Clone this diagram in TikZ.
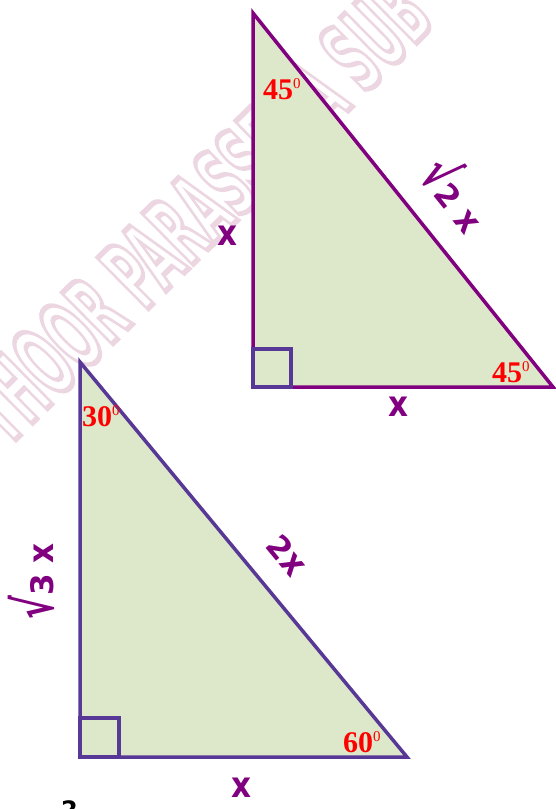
\documentclass[tikz,border=0pt]{standalone}
\usepackage{fontspec}
\usepackage{graphicx}
\setmainfont{Liberation Serif}
\newfontfamily\lblfont{DejaVu Sans}
\definecolor{tripurple}{RGB}{128,0,128}
\definecolor{triblue}{RGB}{88,56,150}
\definecolor{trifill}{RGB}{221,231,202}
\definecolor{angred}{RGB}{255,0,0}
\definecolor{wmpink}{RGB}{236,214,225}
\newcommand{\xglyph}{\scalebox{1}[1.15]{x}}
\newcommand{\rootglyph}{\scalebox{1.15}[1.75]{√}}
\newcommand{\angtxt}[1]{{\fontsize{30}{30}\selectfont\bfseries #1}\raisebox{10.2pt}{\fontsize{15}{15}\selectfont 0}}
\newcommand{\outlinetext}[1]{\special{pdf:literal direct 1 Tr 5.5 w}#1\special{pdf:literal direct 0 Tr}}
\begin{document}
\begin{tikzpicture}[x=1pt,y=-1pt,
  tri/.style={fill=trifill, line width=3.5pt, line join=miter},
  sq/.style={draw=triblue, line width=3.5pt},
  anglbl/.style={text=angred, inner sep=0pt, anchor=base west},
  sidelbl/.style={text=tripurple, inner sep=0pt, font=\lblfont\bfseries\fontsize{31}{31}\selectfont},
  wm/.style={text=wmpink, inner sep=0pt, font=\lblfont\bfseries\fontsize{98}{98}\selectfont}]
\useasboundingbox (0,0) rectangle (556,809);
\clip (0,0) rectangle (556,809);
% watermark
\node[wm, rotate=44.7, xscale=0.455] (wmark) at (197,210) {\outlinetext{THOOR PARASSERA SUB}};
% top triangle
\coordinate (T1) at (253,13);
\coordinate (R1) at (253,387);
\coordinate (E1) at (553,387);
\filldraw[tri, draw=tripurple] (T1) -- (R1) -- (E1) -- cycle;
\draw[sq] (R1) rectangle ++(38,-38);
% bottom triangle
\coordinate (T2) at (80,362);
\coordinate (R2) at (80,757);
\coordinate (E2) at (407,757);
\filldraw[tri, draw=triblue] (T2) -- (R2) -- (E2) -- cycle;
\draw[sq] (R2) rectangle ++(39,-39);
% angle labels
\node[anglbl] (a1) at (263,99) {\angtxt{45}};
\node[anglbl] (a2) at (492,382) {\angtxt{45}};
\node[anglbl] (a3) at (82,426) {\angtxt{30}};
\node[anglbl] (a4) at (343,752) {\angtxt{60}};
% side labels
\node[sidelbl] (s1) at (227,236) {\xglyph};
\node[sidelbl] (s2) at (398,407) {\xglyph};
\node[sidelbl, rotate=-51.3, anchor=base east] (s3) at (465,236) {\rootglyph2 \xglyph};
\node[sidelbl] (s4) at (241,788) {\xglyph};
\node[sidelbl, rotate=-50.4, anchor=base east] (s5) at (291,579) {2\xglyph};
\node[sidelbl, rotate=90, anchor=base east] (s6) at (53,543) {\rootglyph3 \xglyph};
% cut-off fragment at the bottom edge
\node[inner sep=0pt, anchor=base west, font=\lblfont\bfseries\fontsize{24}{24}\selectfont] (frag) at (61,818) {2};
\end{tikzpicture}
\end{document}
